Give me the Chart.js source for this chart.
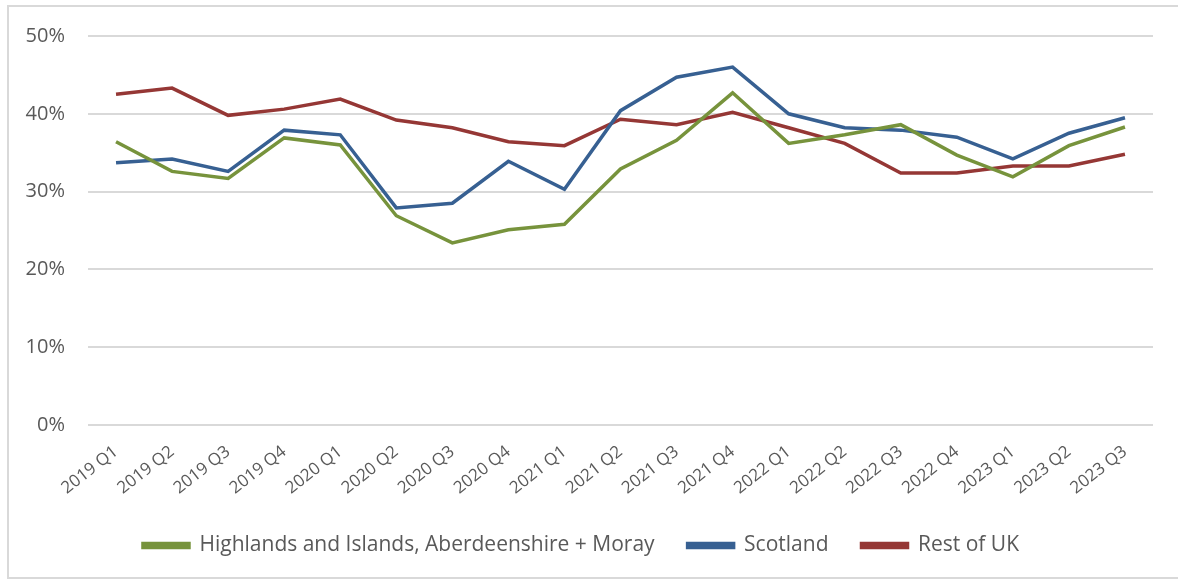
<!DOCTYPE html>
<html>
<head>
<meta charset="utf-8">
<script src="https://cdn.jsdelivr.net/npm/chart.js@4"></script>
<style>
  html, body { margin: 0; padding: 0; background: #fff; overflow: hidden; }
  #frame {
    position: absolute; left: 7px; top: 5px;
    width: 1180px; height: 574px;
    border: 2px solid #d9d9d9; box-sizing: border-box;
  }
  #wrap {
    position: absolute; left: 9px; top: 1px;
    width: 1176px; height: 565px;
  }
</style>
</head>
<body>
<div id="frame"></div>
<div id="wrap"><canvas id="chart"></canvas></div>
<script>
const quarters = ["2019 Q1", "2019 Q2", "2019 Q3", "2019 Q4", "2020 Q1", "2020 Q2", "2020 Q3", "2020 Q4",
    "2021 Q1", "2021 Q2", "2021 Q3", "2021 Q4", "2022 Q1", "2022 Q2", "2022 Q3", "2022 Q4",
    "2023 Q1", "2023 Q2", "2023 Q3"];

const highlands = [36.4, 32.6, 31.7, 36.9, 36.0, 26.9, 23.4, 25.1, 25.8, 32.9, 36.6, 42.7, 36.2, 37.3, 38.6, 34.7, 31.9, 35.9, 38.3];
const scotland = [33.7, 34.2, 32.6, 37.9, 37.3, 27.9, 28.5, 33.9, 30.3, 40.4, 44.7, 46.0, 40.0, 38.2, 37.9, 37.0, 34.2, 37.5, 39.5];
const restOfUK = [42.5, 43.3, 39.8, 40.6, 41.9, 39.2, 38.2, 36.4, 35.9, 39.3, 38.6, 40.2, 38.2, 36.2, 32.4, 32.4, 33.3, 33.3, 34.8];

const yTicks = [0, 10, 20, 30, 40, 50];

const ctx = document.getElementById('chart').getContext('2d');

new Chart(ctx, {
    type: 'line',
    data: {
        labels: quarters,
        datasets: [{
            label: "Highlands and Islands, Aberdeenshire + Moray",
            data: highlands,
            borderColor: '#77933c',
            backgroundColor: '#77933c',
            borderWidth: 3.5,
            pointRadius: 0,
            tension: 0
        },
        {
            label: "Scotland",
            data: scotland,
            borderColor: '#376092',
            backgroundColor: '#376092',
            borderWidth: 3.5,
            pointRadius: 0,
            tension: 0
        },
        {
            label: "Rest of UK",
            data: restOfUK,
            borderColor: '#953735',
            backgroundColor: '#953735',
            borderWidth: 3.5,
            pointRadius: 0,
            tension: 0
        }]
    },
    options: {
        responsive: true,
        maintainAspectRatio: false,
        animation: false,
        layout: {
            padding: { top: 13, right: 32, bottom: 0, left: 0 }
        },
        scales: {
            x: {
                offset: true,
                afterFit: (scale) => { scale.height = 77; },
                grid: { display: false, drawTicks: false },
                border: { display: false },
                ticks: {
                    color: '#595959',
                    font: { family: 'Open Sans', size: 17, lineHeight: 1 },
                    minRotation: 38,
                    maxRotation: 38,
                    autoSkip: false,
                    padding: 18
                }
            },
            y: {
                min: 0,
                max: 50,
                afterFit: (scale) => { scale.width = 79; },
                afterBuildTicks: (scale) => { scale.ticks = yTicks.map(v => ({ value: v })); },
                grid: { color: '#d9d9d9', lineWidth: 2, drawTicks: false },
                border: { display: false },
                ticks: {
                    color: '#595959',
                    font: { family: 'Open Sans', size: 20 },
                    padding: 23,
                    callback: (v) => v + '%'
                }
            }
        },
        plugins: {
            legend: {
                display: true,
                position: 'bottom',
                labels: {
                    color: '#595959',
                    font: { family: 'Open Sans', size: 21 },
                    boxWidth: 46,
                    boxHeight: 4,
                    padding: 33
                }
            },
            tooltip: { enabled: false }
        }
    }
});
</script>
</body>
</html>
